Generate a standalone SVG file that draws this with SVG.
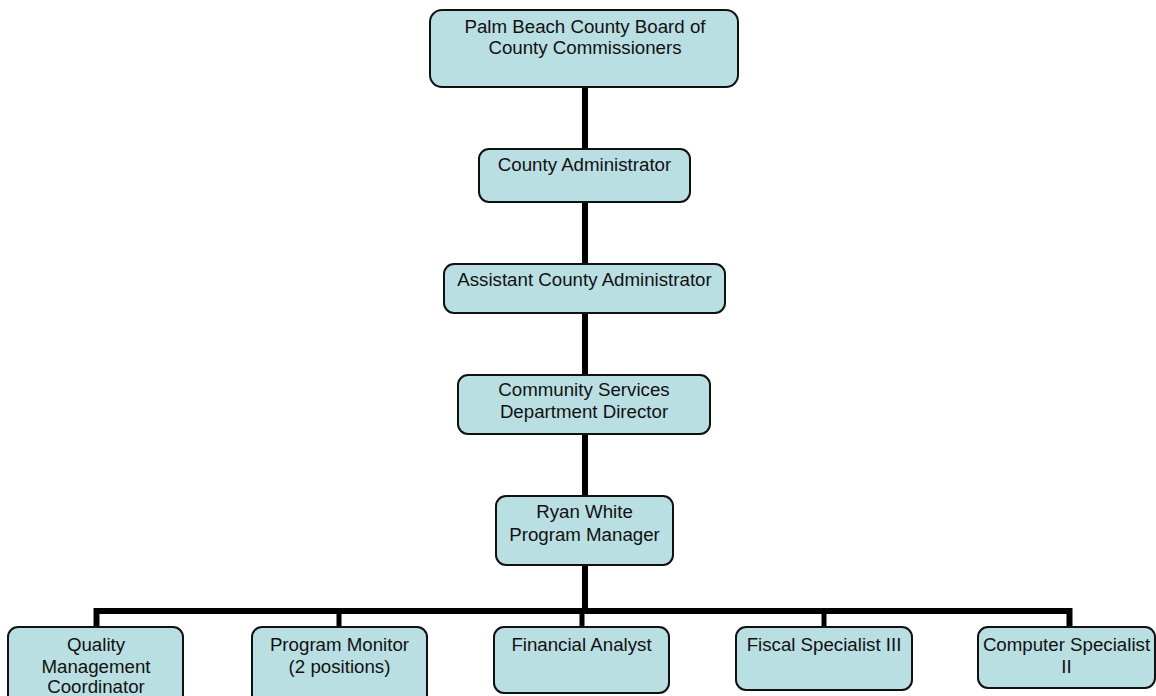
<svg xmlns="http://www.w3.org/2000/svg" width="1156" height="696" viewBox="0 0 1156 696">
<style>
.box{fill:#B9DFE2;stroke:#111;stroke-width:2}
.t{font-family:"Liberation Sans",Arial,sans-serif;font-size:18.7px;fill:#111;text-anchor:middle}
.ln{stroke:#000;fill:none}
</style>
<rect width="1156" height="696" fill="#fff"/>
<g id="connectors">
<line class="ln" x1="585" y1="87" x2="585" y2="614" stroke-width="6"/>
<polyline class="ln" points="96.5,627 96.5,611 1069.5,611 1069.5,627" stroke-width="6" stroke-linejoin="miter"/>
<line class="ln" x1="339" y1="611" x2="339" y2="627" stroke-width="5"/>
<line class="ln" x1="582" y1="611" x2="582" y2="627" stroke-width="5"/>
<line class="ln" x1="824" y1="611" x2="824" y2="627" stroke-width="5"/>
</g>
<g id="board">
<rect class="box" x="430" y="10" width="308" height="77" rx="12"/>
<text class="t" x="585" y="33">Palm Beach County Board of</text>
<text class="t" x="585" y="54">County Commissioners</text>
</g>
<g id="county-administrator">
<rect class="box" x="479" y="149" width="211" height="53" rx="10"/>
<text class="t" x="584.5" y="171">County Administrator</text>
</g>
<g id="assistant-county-administrator">
<rect class="box" x="444" y="264" width="281" height="49" rx="10"/>
<text class="t" x="584.5" y="286">Assistant County Administrator</text>
</g>
<g id="community-services">
<rect class="box" x="458" y="375" width="252" height="59" rx="10"/>
<text class="t" x="584" y="396">Community Services</text>
<text class="t" x="584" y="418">Department Director</text>
</g>
<g id="ryan-white">
<rect class="box" x="496" y="496" width="177" height="69" rx="10"/>
<text class="t" x="584.5" y="518">Ryan White</text>
<text class="t" x="584.5" y="541">Program Manager</text>
</g>
<g id="quality">
<rect class="box" x="8" y="627" width="175" height="80" rx="10"/>
<text class="t" x="96" y="651">Quality</text>
<text class="t" x="96" y="673">Management</text>
<text class="t" x="96" y="693">Coordinator</text>
</g>
<g id="program-monitor">
<rect class="box" x="252" y="627" width="175" height="80" rx="10"/>
<text class="t" x="339.5" y="651">Program Monitor</text>
<text class="t" x="339.5" y="673">(2 positions)</text>
</g>
<g id="financial-analyst">
<rect class="box" x="494" y="627" width="175" height="66" rx="10"/>
<text class="t" x="581.5" y="651">Financial Analyst</text>
</g>
<g id="fiscal-specialist">
<rect class="box" x="736" y="627" width="176" height="63" rx="10"/>
<text class="t" x="824" y="651">Fiscal Specialist III</text>
</g>
<g id="computer-specialist">
<rect class="box" x="978" y="627" width="177" height="61" rx="10"/>
<text class="t" x="1066.5" y="651">Computer Specialist</text>
<text class="t" x="1066.5" y="673">II</text>
</g>
</svg>
